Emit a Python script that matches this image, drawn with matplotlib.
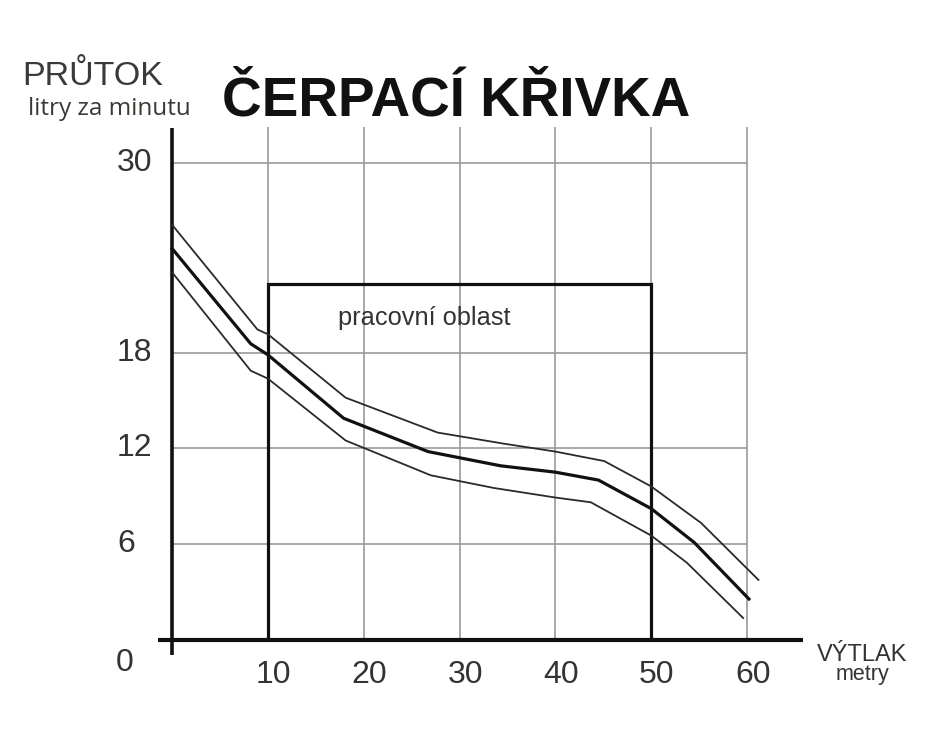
import matplotlib
matplotlib.use("Agg")
import matplotlib.pyplot as plt
import matplotlib.transforms as mtransforms

# ---- data ----
mid_x = [0, 8.2, 10, 17.9, 26.7, 34.3, 40, 44.5, 50, 54.5, 60.2]
mid_y = [24.6, 18.6, 17.9, 13.9, 11.8, 10.9, 10.5, 10.0, 8.2, 6.06, 2.5]
up_x = [0, 8.9, 10, 18.1, 27.7, 34.6, 40, 45.1, 50, 55.2, 61.2]
up_y = [26.1, 19.5, 19.2, 15.2, 13.0, 12.3, 11.8, 11.2, 9.6, 7.3, 3.7]
lo_x = [0, 8.2, 10, 18.1, 27, 33.6, 40, 43.7, 50, 53.7, 59.6]
lo_y = [23.1, 16.9, 16.4, 12.5, 10.3, 9.5, 8.9, 8.6, 6.5, 4.8, 1.3]

x_ticks = [10, 20, 30, 40, 50, 60]
y_ticks = [6, 12, 18, 30]
work_x = [10, 50]
work_top = 22.4

title = "ČERPACÍ KŘIVKA"
ylab1 = "PRŮTOK"
ylab2 = "litry za minutu"
xlab1 = "VÝTLAK"
xlab2 = "metry"
area_label = "pracovní oblast"

W, H = 930, 744
fig = plt.figure(figsize=(W / 100, H / 100), dpi=100)
ax = fig.add_axes([0, 0, 1, 1])
ax.set_xlim(-172.2 / 9.58, (W - 172.2) / 9.58)
ax.set_ylim((638.6 - H) / 15.85, 638.6 / 15.85)
ax.axis("off")

grid_c = "#9a9a9a"
grid_top = 32.3
# vertical grid
ax.vlines(x_ticks, 0, grid_top, colors=grid_c, lw=1.2, zorder=1)
# horizontal grid
ax.hlines(y_ticks, 0, max(x_ticks), colors=grid_c, lw=1.2, zorder=1)

# axes lines
ax.plot([0, 0], [-1.05, 32.2], color="#111111", lw=2.6, solid_capstyle="butt", zorder=3)
ax.plot([-1.45, 65.8], [-0.09, -0.09], color="#111111", lw=3.0, solid_capstyle="butt", zorder=3)

# working area rectangle
ax.plot([work_x[0], work_x[0], work_x[1], work_x[1]], [0, work_top, work_top, 0],
        color="#111111", lw=2.3, zorder=3, solid_joinstyle="miter")

# curves
ax.plot(up_x, up_y, color="#2a2a2a", lw=1.3, zorder=4)
ax.plot(lo_x, lo_y, color="#2a2a2a", lw=1.3, zorder=4)
ax.plot(mid_x, mid_y, color="#111111", lw=2.3, zorder=5)

# tick labels
tick_c = "#333333"
tfont = "Liberation Sans"
trans_y = mtransforms.blended_transform_factory(fig.transFigure, ax.transData)
for v in y_ticks:
    ax.text(117 / W, v, str(v), transform=trans_y, ha="left", va="center",
            fontsize=23, color=tick_c, family=tfont)
fig.text(116 / W, 1 - 663 / H, "0", ha="left", va="center", fontsize=23,
         color=tick_c, family=tfont)
trans_x = mtransforms.blended_transform_factory(ax.transData, fig.transFigure)
for v in x_ticks:
    ax.text(v + 0.6, 1 - 675 / H, str(v), transform=trans_x, ha="center", va="center",
            fontsize=23, color=tick_c, family=tfont)

# axis labels
fig.text(862 / W, 1 - 661 / H, xlab1, ha="center", va="baseline", fontsize=17,
         color=tick_c, family=tfont)
fig.text(862 / W, 1 - 680 / H, xlab2, ha="center", va="baseline", fontsize=15.5,
         color=tick_c, family=tfont)

fig.text(22 / W, 1 - 85 / H, ylab1, ha="left", va="baseline", fontsize=24.5,
         color="#3a3a3a", family=tfont)
fig.text(28 / W, 1 - 115 / H, ylab2, ha="left", va="baseline", fontsize=17.5,
         color="#3a3a35", family="Open Sans")

# title
fig.text(456 / W, 1 - 115 / H, title, ha="center", va="baseline", fontsize=39.5,
         fontweight="bold", color="#111111", family="Liberation Sans")

# working area label
fig.text(338 / W, 1 - 318 / H, area_label, ha="left", va="center", fontsize=18.3,
         color="#333333", family=tfont)

fig.savefig("out.png", dpi=100, facecolor="white")
